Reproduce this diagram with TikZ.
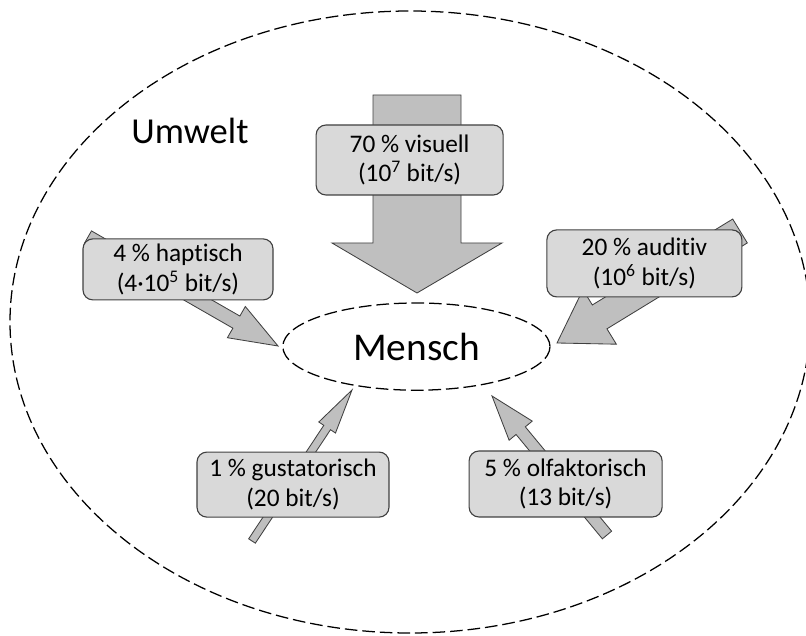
\documentclass[tikz,border=0pt]{standalone}
\usepackage{fontspec}
\setmainfont{Carlito}[Ligatures=NoCommon]
\usetikzlibrary{calc,shapes}
\definecolor{boxgray}{HTML}{D9D9D9}
\definecolor{arrowgray}{HTML}{BFBFBF}
\definecolor{edgegray}{HTML}{404040}

% block arrow: tail, tip, half shaft, half head, head length
\newcommand{\fatarrow}[5]{%
  \coordinate (hb) at ($(#2)!#5!(#1)$);
  \draw[sense] ($(#1)!#3!90:(#2)$) -- ($(hb)!#3!90:(#2)$) -- ($(hb)!#4!90:(#2)$) -- (#2)
    -- ($(hb)!#4!-90:(#2)$) -- ($(hb)!#3!-90:(#2)$) -- ($(#1)!#3!-90:(#2)$) -- cycle;}

\begin{document}
\begin{tikzpicture}
  \tikzstyle{sense}=[draw=edgegray,fill=arrowgray,line width=0.6pt]
  \tikzstyle{zone}=[ellipse,draw,line width=0.9pt,dash pattern=on 9pt off 3.5pt,inner sep=0pt]
  \tikzstyle{rate}=[rectangle,rounded corners=7pt,draw=edgegray,fill=boxgray,
                    line width=0.8pt,align=center,font=\fontsize{18}{21}\selectfont]
  \useasboundingbox (0,0) rectangle (20.15,15.875);

  \node [zone,minimum width=20cm,minimum height=15.55cm] (umwelt) at (10.25,7.825) {};
  \node [font=\fontsize{26}{30}\selectfont] (uw) at (4.75,12.6) {Umwelt};
  \node [zone,minimum width=6.68cm,minimum height=2.18cm,
         font=\fontsize{28}{32}\selectfont] (mensch) at (10.41,7.21) {Mensch};

  % tails and tips
  \coordinate (vt) at (10.425,13.5);  \coordinate (vs) at (10.425,8.55);
  \coordinate (ht) at (2.2,9.95);     \coordinate (hs) at (6.95,7.225);
  \coordinate (at) at (18.5,10.1);    \coordinate (as) at (13.925,7.3);
  \coordinate (gt) at (6.3,2.35);     \coordinate (gs) at (8.8,6.125);
  \coordinate (ot) at (15.175,2.5);   \coordinate (os) at (12.3,5.975);

  \fatarrow{vt}{vs}{1.1cm}{2.125cm}{1.25cm}
  \fatarrow{ht}{hs}{0.175cm}{0.45cm}{1.2cm}
  \fatarrow{at}{as}{0.35cm}{0.8cm}{1.25cm}
  \fatarrow{gt}{gs}{0.1cm}{0.25cm}{1.125cm}
  \fatarrow{ot}{os}{0.15cm}{0.375cm}{1.125cm}

  \node [rate,minimum width=4.675cm,minimum height=1.75cm] (vis) at (10.24,11.875)
    {70 \% visuell\\(10\textsuperscript{7} bit/s)};
  \node [rate,minimum width=4.75cm,minimum height=1.525cm] (hap) at (4.45,9.14)
    {4 \% haptisch\\(4·10\textsuperscript{5} bit/s)};
  \node [rate,minimum width=4.875cm,minimum height=1.675cm] (aud) at (16.11,9.29)
    {20 \% auditiv\\(10\textsuperscript{6} bit/s)};
  \node [rate,minimum width=4.8cm,minimum height=1.625cm] (gus) at (7.325,3.76)
    {1 \% gustatorisch\\(20 bit/s)};
  \node [rate,minimum width=4.825cm,minimum height=1.65cm] (olf) at (14.14,3.775)
    {5 \% olfaktorisch\\(13 bit/s)};
\end{tikzpicture}
\end{document}
